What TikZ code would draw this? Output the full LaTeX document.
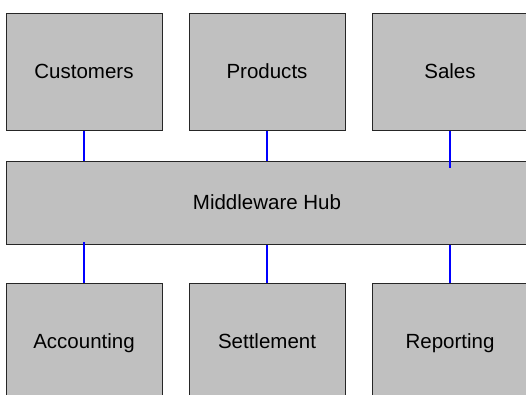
\documentclass[tikz,border=0pt]{standalone}
\usepackage{fontspec}
\setmainfont{Liberation Sans}
\begin{document}
\begin{tikzpicture}[x=1pt,y=-1pt,
  sysbox/.style={draw=black!85, line width=1pt, fill={rgb,255:red,192;green,192;blue,192},
    minimum width=156pt, minimum height=117pt, inner sep=0pt,
    text height=17.5pt, text depth=4pt,
    font=\fontsize{20.5}{24}\selectfont},
  hubbox/.style={sysbox, minimum width=522pt, minimum height=83pt},
  link/.style={draw=blue, line width=1.3pt}]
\useasboundingbox (0,0) rectangle (526,394);
\clip (0,0) rectangle (526,394);
% upstream systems
\node[sysbox] (cust) at (84,71.5) {Customers};
\node[sysbox] (prod) at (267,71.5) {Products};
\node[sysbox] (sales) at (450,71.5) {Sales};
% central hub
\node[hubbox] (hub) at (267,202.5) {Middleware Hub};
% downstream systems
\node[sysbox] (acct) at (84,341.5) {Accounting};
\node[sysbox] (settle) at (267,341.5) {Settlement};
\node[sysbox] (rep) at (450,341.5) {Reporting};
% connections to the hub
\draw[link] (cust.south) -- (cust.south |- hub.north);
\draw[link] (prod.south) -- (prod.south |- hub.north);
\draw[link, shorten >=-7pt] (sales.south) -- (sales.south |- hub.north);
\draw[link, shorten >=-3pt] (acct.north) -- (acct.north |- hub.south);
\draw[link] (settle.north) -- (settle.north |- hub.south);
\draw[link] (rep.north) -- (rep.north |- hub.south);
\end{tikzpicture}
\end{document}
